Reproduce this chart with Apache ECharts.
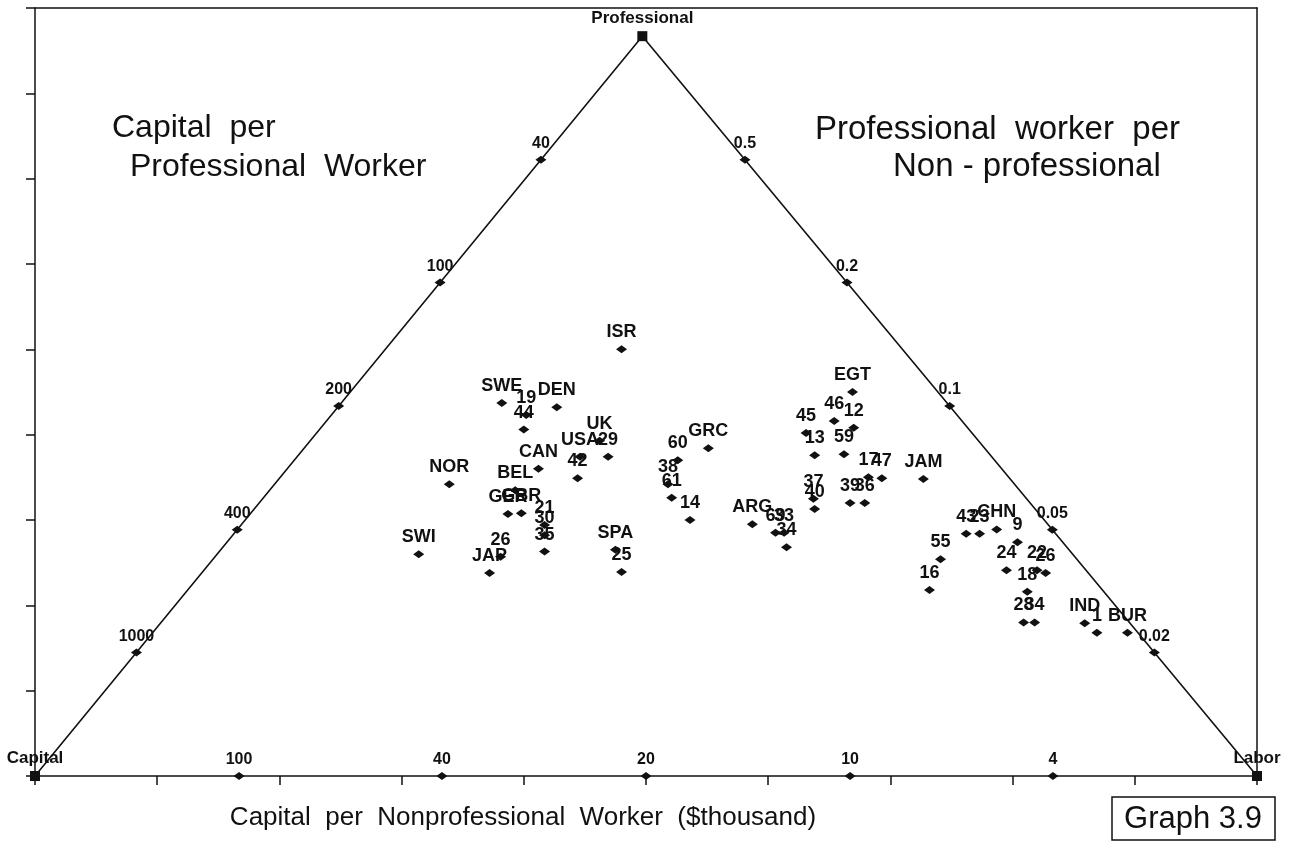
<!DOCTYPE html>
<html>
<head>
<meta charset="utf-8">
<script src="https://cdn.jsdelivr.net/npm/echarts@6/dist/echarts.min.js"></script>
<style>
  html, body { margin: 0; padding: 0; background: #fff; }
  #chart { width: 1292px; height: 849px; }
</style>
</head>
<body>
<div id="chart"></div>
<script>
// points, in plot units (x 0-10, y 0-9)
const pointLabels = ['ISR', 'SWE', '19', '44', 'DEN', 'UK', 'USA', '29', '42', 'CAN',
  'BEL', 'NOR', 'GER', 'GBR', 'SWI', '26', 'JAP', '21', '30', '35',
  'SPA', '25', '60', '38', '61', '14', 'GRC', 'ARG', '69', '33',
  '34', 'EGT', '46', '12', '45', '13', '59', '17', '47', 'JAM',
  '37', '40', '39', '36', '43', '23', 'CHN', '9', '55', '16',
  '24', '22', '26', '18', '28', '34', 'IND', '1', 'BUR']
const pointX = [4.80, 3.82, 4.02, 4.00, 4.27, 4.62, 4.46, 4.69, 4.44, 4.12,
  3.93, 3.39, 3.87, 3.98, 3.14, 3.81, 3.72, 4.17, 4.17, 4.17,
  4.75, 4.80, 5.26, 5.18, 5.21, 5.36, 5.51, 5.87, 6.06, 6.13,
  6.15, 6.69, 6.54, 6.70, 6.31, 6.38, 6.62, 6.82, 6.93, 7.27,
  6.37, 6.38, 6.67, 6.79, 7.62, 7.73, 7.87, 8.04, 7.41, 7.32,
  7.95, 8.20, 8.27, 8.12, 8.09, 8.18, 8.59, 8.69, 8.94]
const pointY = [5.00, 4.37, 4.23, 4.06, 4.32, 3.93, 3.74, 3.74, 3.49, 3.60,
  3.35, 3.42, 3.07, 3.08, 2.60, 2.57, 2.38, 2.94, 2.82, 2.63,
  2.65, 2.39, 3.70, 3.42, 3.26, 3.00, 3.84, 2.95, 2.85, 2.85,
  2.68, 4.50, 4.16, 4.08, 4.02, 3.76, 3.77, 3.50, 3.49, 3.48,
  3.25, 3.13, 3.20, 3.20, 2.84, 2.84, 2.89, 2.74, 2.54, 2.18,
  2.41, 2.41, 2.38, 2.16, 1.80, 1.80, 1.79, 1.68, 1.68]

// triangle corners
const cornerNames = ['Capital', 'Professional', 'Labor']
const cornerX = [0, 4.97, 10]
const cornerY = [0, 8.67, 0]

// scale marks along each side (fraction of the side from its first corner)
const edgeSteps = [0.167, 0.333, 0.5, 0.667, 0.833]
const leftEdgeLabels = ['1000', '400', '200', '100', '40']      // Capital -> Professional
const rightEdgeLabels = ['0.5', '0.2', '0.1', '0.05', '0.02']   // Professional -> Labor
const bottomEdgeLabels = ['100', '40', '20', '10', '4']         // Capital -> Labor

const ink = '#111'
const font = 'Liberation Sans, Arial, Helvetica, sans-serif'

function along(a, b, labels) {
  return labels.map((name, i) => {
    const t = edgeSteps[i]
    return {
      name: name,
      value: [cornerX[a] + (cornerX[b] - cornerX[a]) * t, cornerY[a] + (cornerY[b] - cornerY[a]) * t]
    }
  })
}

const edgeMarks = []
  .concat(along(0, 1, leftEdgeLabels))
  .concat(along(1, 2, rightEdgeLabels))
  .concat(along(0, 2, bottomEdgeLabels))

const points = pointLabels.map((name, i) => ({ name: name, value: [pointX[i], pointY[i]] }))
const corners = cornerNames.map((name, i) => ({ name: name, value: [cornerX[i], cornerY[i]] }))

const myChart = echarts.init(document.getElementById('chart'))

const frameAxis = {
  type: 'value',
  interval: 1,
  axisLine: { show: true, onZero: false, lineStyle: { color: ink, width: 1.5 } },
  axisTick: { show: true, length: 9, lineStyle: { color: ink, width: 1.5 } },
  axisLabel: { show: false },
  splitLine: { show: false }
}

function markLabel(size) {
  return {
    show: true,
    position: 'top',
    distance: 4,
    formatter: '{b}',
    color: ink,
    opacity: 1,
    fontFamily: font,
    fontWeight: 'bold',
    fontSize: size
  }
}

const option = {
  backgroundColor: '#fff',
  animation: false,
  grid: { left: 35, right: 35, top: 8, bottom: 73 },
  xAxis: [
    Object.assign({}, frameAxis, { min: 0, max: 10, position: 'bottom' }),
    Object.assign({}, frameAxis, { min: 0, max: 10, position: 'top', axisTick: { show: false } })
  ],
  yAxis: [
    Object.assign({}, frameAxis, { min: 0, max: 9, position: 'left' }),
    Object.assign({}, frameAxis, { min: 0, max: 9, position: 'right', axisTick: { show: false } })
  ],
  series: [
    {
      // the two slanted sides, the base is the x axis
      type: 'line',
      data: corners.map(c => c.value),
      showSymbol: false,
      lineStyle: { color: ink, width: 1.6 },
      silent: true,
      z: 1
    },
    {
      type: 'scatter',
      data: corners,
      symbol: 'rect',
      symbolSize: 10,
      itemStyle: { color: ink, opacity: 1 },
      label: markLabel(17),
      z: 3
    },
    {
      type: 'scatter',
      data: edgeMarks,
      symbol: 'diamond',
      symbolSize: [11, 8],
      itemStyle: { color: ink, opacity: 1 },
      label: markLabel(16),
      z: 3
    },
    {
      type: 'scatter',
      data: points,
      symbol: 'diamond',
      symbolSize: [11, 8],
      itemStyle: { color: ink, opacity: 1 },
      label: markLabel(18),
      labelLayout: { hideOverlap: false },
      z: 4
    }
  ],
  graphic: [
    {
      type: 'text', left: 112, top: 112,
      style: { text: 'Capital  per', font: '32px ' + font, fill: ink }
    },
    {
      type: 'text', left: 130, top: 151,
      style: { text: 'Professional  Worker', font: '32px ' + font, fill: ink }
    },
    {
      type: 'text', left: 815, top: 113,
      style: { text: 'Professional  worker  per', font: '33px ' + font, fill: ink }
    },
    {
      type: 'text', left: 893, top: 150,
      style: { text: 'Non - professional', font: '33px ' + font, fill: ink }
    },
    {
      type: 'text', x: 523, y: 818,
      style: {
        text: 'Capital  per  Nonprofessional  Worker  ($thousand)',
        font: '26px ' + font, fill: ink, textAlign: 'center', textVerticalAlign: 'middle'
      }
    },
    {
      type: 'rect',
      shape: { x: 1112, y: 797, width: 163, height: 43 },
      style: { fill: 'none', stroke: ink, lineWidth: 1.5 }
    },
    {
      type: 'text', x: 1193, y: 819,
      style: {
        text: 'Graph 3.9', font: '31px ' + font, fill: ink,
        textAlign: 'center', textVerticalAlign: 'middle'
      }
    }
  ]
}

myChart.setOption(option)
</script>
</body>
</html>
